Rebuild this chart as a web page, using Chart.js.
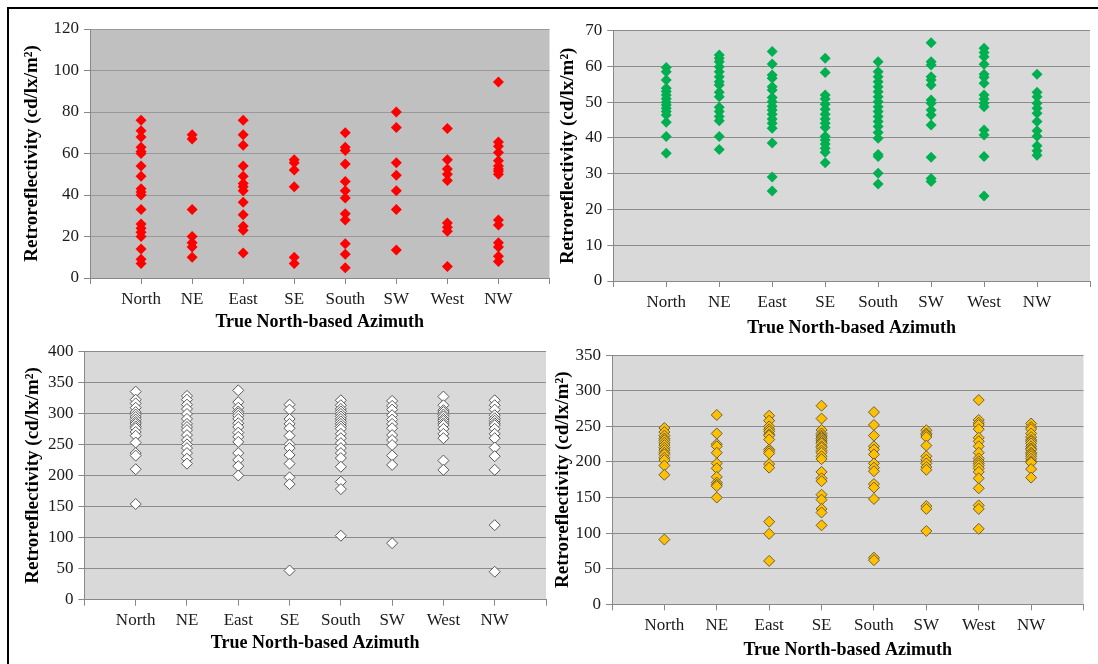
<!DOCTYPE html>
<html>
<head>
<meta charset="utf-8">
<script src="https://cdn.jsdelivr.net/npm/chart.js@4/dist/chart.umd.min.js"></script>
<style>
  html, body { margin: 0; padding: 0; background: #fff; overflow: hidden; }
  body { width: 1098px; height: 664px; position: relative; }
  #frame { position: absolute; left: 7px; top: 7px; width: 1300px; height: 900px; border: 2px solid #000; }
  canvas { position: absolute; }
</style>
</head>
<body>
<div id="frame"></div>
<canvas id="redChart" width="545" height="326" style="left:10px;top:10px"></canvas>
<canvas id="greenChart" width="553" height="330" style="left:545px;top:10px"></canvas>
<canvas id="whiteChart" width="545" height="326" style="left:10px;top:336px"></canvas>
<canvas id="goldChart" width="553" height="324" style="left:545px;top:340px"></canvas>
<script>
const categories = ['North', 'NE', 'East', 'SE', 'South', 'SW', 'West', 'NW'];

// one list of readings per azimuth, in the order of categories
const redValues = [
  [76, 71, 68, 63, 61, 60, 54, 49, 43, 41.5, 40, 33, 26, 24, 22, 20, 14, 9, 7],
  [69, 67, 33, 20, 17, 15, 10],
  [76, 69, 64, 54, 49, 45.5, 44, 42, 36.5, 30.5, 25, 23, 12],
  [57, 55.5, 52, 44, 10, 7],
  [70, 63, 61.5, 55, 46.5, 42, 38.5, 31, 28, 16.5, 11.5, 5],
  [80, 72.5, 55.5, 49.5, 42, 33, 13.5],
  [72, 57, 52.5, 50, 47, 26.5, 24.5, 22.5, 5.5],
  [94.5, 65.5, 63.5, 60.5, 56.5, 54, 52.5, 51.5, 50, 28, 25.5, 17, 15, 10.5, 8]
];
const greenValues = [
  [59.7, 58.5, 56.2, 53.9, 53, 52, 51, 50, 49.2, 48.3, 47.4, 46.4, 44.4, 40.4, 35.7],
  [63.2, 62.3, 61.3, 59.9, 58.5, 57.1, 55.7, 54.8, 52.8, 51.5, 48.6, 47.4, 46, 44.8, 40.4, 36.8],
  [64.2, 60.7, 57.6, 56.7, 54.3, 53.4, 51.3, 50.1, 48.9, 47.8, 46.6, 45.3, 44.1, 42.7, 38.6, 29.1, 25.2],
  [62.3, 58.3, 52, 50.9, 49.4, 48, 46.6, 45.3, 44.1, 42.9, 40.5, 39.4, 38.3, 37.1, 36, 33.1],
  [61.3, 58.5, 57.1, 55.7, 54.3, 52.9, 51.5, 50.1, 48.7, 47.4, 46, 44.6, 43.2, 41.5, 39.9, 35.4, 34.8, 30.1, 27.1],
  [66.6, 61.3, 60.4, 57.1, 56.2, 54.8, 50.6, 49.7, 47.8, 46.4, 43.6, 34.6, 28.7, 27.8],
  [65.1, 63.9, 62.7, 60.6, 57.8, 57, 55.3, 52, 50.9, 49.7, 48.7, 42.2, 40.8, 34.8, 23.8],
  [57.8, 52.8, 51.5, 49.7, 48.3, 46.9, 44.6, 42, 40.5, 37.8, 36.4, 35.2]
];
const whiteValues = [
  [335, 322, 316, 309, 302, 298, 294, 290, 286, 283, 279, 276, 270, 264, 253, 236, 232, 210, 154],
  [328, 322, 314, 307, 299, 291, 283, 278, 273, 265, 257, 250, 244, 236, 227, 219],
  [337, 318, 309, 303, 300, 296, 291, 284, 278, 269, 262, 254, 236, 225, 215, 200],
  [314, 306, 291, 283, 276, 264, 250, 244, 233, 219, 197, 186, 47],
  [321, 313, 307, 303, 299, 295, 291, 287, 283, 279, 275, 267, 260, 252, 244, 236, 228, 214, 190, 178, 103],
  [320, 312, 306, 297, 290, 283, 276, 265, 257, 249, 232, 217, 91],
  [327, 313, 305, 302, 298, 295, 291, 288, 284, 281, 275, 267, 260, 224, 209],
  [321, 313, 306, 297, 292, 288, 284, 281, 275, 267, 260, 245, 231, 209, 120, 45]
];
const goldValues = [
  [247.7, 242, 237, 233, 230.5, 227, 223.6, 220, 216.6, 213, 210.6, 206, 202.6, 195, 182, 91],
  [266, 240, 225, 222, 213, 198, 191, 179, 171, 168, 166, 150],
  [265, 258, 250, 246, 243, 239, 237, 231.5, 217.5, 215, 212, 197, 192, 116, 99, 61],
  [279, 261, 245, 240, 237, 235, 233, 230.5, 228, 226, 222, 220, 216, 213, 208, 204, 186, 177, 173, 154, 147, 134, 129, 111],
  [270, 252, 237, 222, 217.5, 210.6, 198, 192, 187, 169, 164, 148, 65.5, 62],
  [244.5, 240, 238, 235, 223, 208, 203, 198, 193, 189, 138, 134, 103],
  [287, 259, 255, 252, 246, 234, 229, 222, 213, 205, 201, 198, 195, 191, 186, 177, 163, 139, 134, 106],
  [254, 249, 246, 240, 235, 231, 229, 226, 222, 219, 217, 213, 211, 208, 204.5, 201, 199, 190, 178]
];

// y axis ticks: [min, max, step]
const redTicks = [0, 120, 20];
const greenTicks = [0, 70, 10];
const whiteTicks = [0, 400, 50];
const goldTicks = [0, 350, 50];

const serif = "'Liberation Serif', 'Times New Roman', serif";

const plotBg = {
  id: 'plotBg',
  beforeDraw(chart, args, opts) {
    const { ctx, chartArea: a } = chart;
    ctx.save();
    ctx.fillStyle = opts.color;
    ctx.fillRect(a.left, a.top, a.right - a.left, a.bottom - a.top);
    ctx.restore();
  }
};

function toPoints(values) {
  const pts = [];
  values.forEach((list, i) => {
    list.forEach(v => pts.push({ x: i + 1, y: v }));
  });
  return pts;
}

function makeChart(id, values, yTicks, p) {
  new Chart(document.getElementById(id), {
    type: 'scatter',
    data: {
      datasets: [{
        data: toPoints(values),
        pointStyle: 'rectRot',
        pointRadius: p.radius,
        backgroundColor: p.fill,
        borderColor: p.stroke,
        borderWidth: p.strokeWidth
      }]
    },
    options: {
      responsive: false,
      animation: false,
      events: [],
      layout: { padding: { top: p.padTop, right: p.padRight, left: 0, bottom: 0 } },
      plugins: {
        legend: { display: false },
        tooltip: { enabled: false },
        plotBg: { color: p.bg }
      },
      scales: {
        x: {
          type: 'linear',
          min: 0,
          max: 9,
          ticks: {
            stepSize: 1,
            autoSkip: false,
            maxRotation: 0,
            padding: 5,
            color: '#1a1a1a',
            font: { family: serif, size: 17 },
            callback: v => categories[v - 1] || ''
          },
          grid: { drawOnChartArea: false, tickLength: 6, color: '#888' },
          border: { color: '#888' },
          title: {
            display: true,
            text: 'True North-based Azimuth',
            color: '#000',
            font: { family: serif, size: 18, weight: 'bold' },
            padding: { top: 0, bottom: p.xTitlePad }
          },
          afterFit: s => { s.height = p.xH; }
        },
        y: {
          min: yTicks[0],
          max: yTicks[1],
          ticks: {
            stepSize: yTicks[2],
            padding: 5,
            color: '#1a1a1a',
            font: { family: serif, size: 17 }
          },
          grid: { color: p.gridColor, tickLength: 6, tickColor: '#888' },
          border: { color: '#888' },
          title: {
            display: true,
            text: 'Retroreflectivity (cd/lx/m²)',
            color: '#000',
            font: { family: serif, size: 19, weight: 'bold' },
            padding: { top: p.yTitlePad, bottom: 0 }
          },
          afterFit: s => { s.width = p.yW; }
        }
      }
    },
    plugins: [plotBg]
  });
}

makeChart('redChart', redValues, redTicks, {
  fill: '#ff0000', stroke: '#ff0000', strokeWidth: 0, radius: 5.5,
  bg: '#c0c0c0', gridColor: '#999',
  yW: 80, padTop: 19, padRight: 3, xH: 58, yTitlePad: 10.6, xTitlePad: 3.2
});
makeChart('greenChart', greenValues, greenTicks, {
  fill: '#00b050', stroke: '#00b050', strokeWidth: 0, radius: 5.5,
  bg: '#d9d9d9', gridColor: '#8c8c8c',
  yW: 68.3, padTop: 20.7, padRight: 8, xH: 59, yTitlePad: 11.6, xTitlePad: 1.2
});
makeChart('whiteChart', whiteValues, whiteTicks, {
  fill: '#ffffff', stroke: '#595959', strokeWidth: 1, radius: 5.5,
  bg: '#d9d9d9', gridColor: '#8c8c8c',
  yW: 74.4, padTop: 9.7, padRight: 9, xH: 62.3, yTitlePad: 11.6, xTitlePad: 8.2
});
makeChart('goldChart', goldValues, goldTicks, {
  fill: '#ffc000', stroke: '#6b5e3a', strokeWidth: 1, radius: 5.5,
  bg: '#d9d9d9', gridColor: '#8c8c8c',
  yW: 67, padTop: 13.3, padRight: 14.5, xH: 59.7, yTitlePad: 6.6, xTitlePad: 3.2
});
</script>
</body>
</html>
